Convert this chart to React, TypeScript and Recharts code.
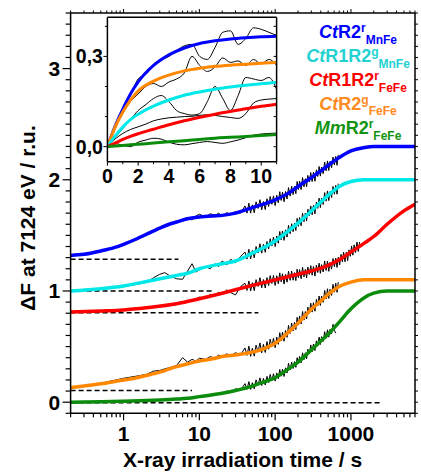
import React from 'react';
import { LineChart, Line, XAxis, YAxis, Legend } from 'recharts';

const FONT = '"Liberation Sans", Arial, Helvetica, sans-serif';

// ---------- main chart: fitted curves (time in s, ΔF in r.u.) ----------
const blueFitT = [0.2, 0.3, 0.5, 0.75, 1, 1.5, 2, 3, 4, 5, 7, 10, 15, 20, 30, 50, 100, 150, 200, 300, 400, 500, 700, 1000, 1500, 2000, 3000, 7000];
const blueFitV = [1.32, 1.33, 1.36, 1.39, 1.42, 1.47, 1.51, 1.565, 1.6, 1.62, 1.65, 1.665, 1.675, 1.68, 1.7, 1.75, 1.82, 1.88, 1.94, 2.02, 2.08, 2.13, 2.2, 2.26, 2.29, 2.3, 2.3, 2.3];

const cyanFitT = [0.2, 0.5, 1, 2, 3, 5, 7, 10, 20, 30, 50, 100, 150, 200, 300, 400, 500, 700, 1000, 1500, 2000, 7000];
const cyanFitV = [1.0, 1.02, 1.045, 1.085, 1.11, 1.14, 1.16, 1.2, 1.245, 1.27, 1.34, 1.45, 1.54, 1.61, 1.72, 1.8, 1.86, 1.94, 1.985, 2.0, 2.0, 2.0];

const redFitT = [0.2, 0.5, 1, 2, 5, 10, 20, 50, 100, 200, 300, 500, 700, 1000, 1500, 2000, 3000, 5000, 7000];
const redFitV = [0.81, 0.82, 0.83, 0.85, 0.885, 0.93, 0.98, 1.05, 1.1, 1.15, 1.18, 1.23, 1.28, 1.35, 1.43, 1.49, 1.6, 1.72, 1.78];

const orangeFitT = [0.2, 0.3, 0.5, 0.75, 1, 1.5, 2, 3, 5, 7, 10, 15, 20, 30, 50, 70, 100, 150, 200, 300, 400, 500, 700, 1000, 1500, 2000, 7000];
const orangeFitV = [0.13, 0.145, 0.165, 0.185, 0.2, 0.22, 0.24, 0.27, 0.32, 0.345, 0.37, 0.39, 0.41, 0.425, 0.45, 0.48, 0.53, 0.63, 0.71, 0.835, 0.91, 0.97, 1.04, 1.08, 1.1, 1.1, 1.1];

const greenFitT = [0.2, 0.5, 1, 2, 3, 5, 7, 10, 20, 30, 50, 70, 100, 150, 200, 300, 400, 500, 700, 1000, 1500, 2000, 3000, 7000];
const greenFitV = [0.0, 0.003, 0.008, 0.015, 0.02, 0.028, 0.035, 0.05, 0.08, 0.105, 0.145, 0.18, 0.22, 0.3, 0.36, 0.47, 0.55, 0.61, 0.72, 0.84, 0.94, 0.98, 1.0, 1.0];

// ---------- main chart: measured (noisy) traces ----------
const noiseT = [0.5, 1, 1.5, 2, 2.5, 3, 3.5, 4, 5, 6, 7, 8, 9, 10, 12, 14, 16, 18, 20, 23, 26, 30, 35,
  40, 42.5, 45, 47.5, 50, 53, 56, 59.5, 63, 66.5, 70, 74, 78, 82, 86, 90.5, 95, 100, 105, 110, 115, 120, 125, 131, 137, 143.5, 150, 157.5, 165, 172.5, 180, 187.5, 195, 202.5, 210, 220, 230, 240, 250, 260, 270, 282.5, 295, 307.5, 320, 335, 350, 365, 380, 395, 410, 430, 450, 470, 490, 510, 530, 555, 580, 605, 630, 655, 680];
const redNoiseExtraT = [710, 740, 770, 800, 835, 870, 905, 940, 980, 1020, 1060, 1100, 1150, 1200, 1250, 1300];

const blueNoiseV = [1.355, 1.412, 1.462, 1.5, 1.535, 1.56, 1.583, 1.605, 1.618, 1.645, 1.66, 1.638, 1.675, 1.69, 1.668, 1.695, 1.68, 1.7, 1.672, 1.705, 1.685, 1.715, 1.7,
  1.765, 1.7, 1.79, 1.7, 1.775, 1.703, 1.802, 1.742, 1.821, 1.73, 1.805, 1.732, 1.83, 1.76, 1.85, 1.78, 1.855, 1.768, 1.861, 1.792, 1.893, 1.814, 1.89, 1.802, 1.895, 1.827, 1.93, 1.853, 1.942, 1.866, 1.94, 1.875, 1.985, 1.912, 1.988, 1.912, 2.02, 1.937, 2.01, 1.938, 2.04, 1.98, 2.065, 1.984, 2.068, 1.987, 2.09, 2.03, 2.12, 2.033, 2.115, 2.055, 2.16, 2.08, 2.17, 2.083, 2.165, 2.108, 2.205, 2.133, 2.21, 2.13, 2.225];
const cyanNoiseV = [1.02, 1.04, 1.06, 1.078, 1.12, 1.15, 1.165, 1.14, 1.11, 1.105, 1.18, 1.245, 1.17, 1.19, 1.22, 1.2, 1.245, 1.22, 1.27, 1.235, 1.285, 1.255, 1.31,
  1.35, 1.287, 1.375, 1.288, 1.365, 1.298, 1.4, 1.342, 1.425, 1.34, 1.42, 1.348, 1.445, 1.378, 1.47, 1.405, 1.485, 1.4, 1.495, 1.43, 1.535, 1.46, 1.54, 1.455, 1.55, 1.485, 1.59, 1.515, 1.605, 1.533, 1.61, 1.544, 1.653, 1.582, 1.66, 1.587, 1.7, 1.623, 1.7, 1.63, 1.735, 1.678, 1.765, 1.685, 1.77, 1.693, 1.8, 1.743, 1.835, 1.75, 1.835, 1.778, 1.885, 1.808, 1.9, 1.813, 1.895, 1.84, 1.94, 1.87, 1.95, 1.87, 1.965];
const redNoiseV = [0.82, 0.83, 0.842, 0.852, 0.858, 0.862, 0.87, 0.878, 0.89, 0.9, 0.915, 0.905, 0.93, 0.945, 0.935, 0.97, 0.955, 0.99, 0.97, 1.01, 0.985, 0.965, 1.04,
  1.07, 1.005, 1.09, 1.0, 1.075, 1.003, 1.102, 1.041, 1.12, 1.029, 1.103, 1.027, 1.12, 1.049, 1.138, 1.067, 1.14, 1.05, 1.137, 1.065, 1.163, 1.082, 1.155, 1.062, 1.15, 1.079, 1.178, 1.096, 1.18, 1.097, 1.165, 1.093, 1.197, 1.12, 1.192, 1.11, 1.213, 1.127, 1.195, 1.118, 1.215, 1.149, 1.228, 1.142, 1.22, 1.134, 1.232, 1.166, 1.25, 1.159, 1.237, 1.171, 1.27, 1.184, 1.268, 1.177, 1.257, 1.197, 1.292, 1.218, 1.295, 1.212, 1.303,
  1.235, 1.33, 1.263, 1.35, 1.263, 1.35, 1.272, 1.37, 1.312, 1.405, 1.322, 1.415, 1.345, 1.44, 1.355, 1.44];
const orangeNoiseV = [0.17, 0.215, 0.235, 0.25, 0.28, 0.285, 0.3, 0.31, 0.33, 0.4, 0.36, 0.385, 0.37, 0.395, 0.385, 0.41, 0.395, 0.425, 0.405, 0.435, 0.415, 0.445, 0.425,
  0.488, 0.421, 0.504, 0.412, 0.485, 0.414, 0.513, 0.453, 0.533, 0.444, 0.52, 0.447, 0.545, 0.476, 0.568, 0.499, 0.575, 0.49, 0.585, 0.52, 0.625, 0.55, 0.63, 0.548, 0.645, 0.583, 0.69, 0.618, 0.712, 0.64, 0.718, 0.653, 0.763, 0.694, 0.775, 0.703, 0.815, 0.738, 0.815, 0.748, 0.855, 0.8, 0.89, 0.81, 0.895, 0.818, 0.925, 0.865, 0.955, 0.87, 0.955, 0.898, 1.005, 0.928, 1.02, 0.933, 1.015, 0.96, 1.06, 0.99, 1.07, 0.988, 1.08];
const greenNoiseV = [0.002, 0.005, 0.012, 0.02, 0.022, 0.018, 0.025, 0.03, 0.026, 0.038, 0.042, 0.036, 0.05, 0.056, 0.05, 0.07, 0.062, 0.085, 0.075, 0.1, 0.09, 0.12, 0.108,
  0.167, 0.116, 0.185, 0.114, 0.175, 0.12, 0.201, 0.154, 0.219, 0.15, 0.214, 0.155, 0.232, 0.177, 0.25, 0.195, 0.256, 0.19, 0.263, 0.211, 0.294, 0.234, 0.297, 0.231, 0.309, 0.262, 0.35, 0.29, 0.361, 0.303, 0.365, 0.313, 0.4, 0.348, 0.412, 0.354, 0.444, 0.382, 0.444, 0.39, 0.476, 0.437, 0.515, 0.453, 0.523, 0.464, 0.552, 0.509, 0.585, 0.519, 0.589, 0.546, 0.634, 0.575, 0.651, 0.585, 0.655, 0.616, 0.7, 0.646, 0.62];

// ---------- main chart: dashed baselines ----------
const blueBaseT = [0.2, 5.3];
const blueBaseV = [1.285, 1.285];
const cyanBaseT = [0.2, 15];
const cyanBaseV = [1.0, 1.0];
const redBaseT = [0.2, 60];
const redBaseV = [0.805, 0.805];
const orangeBaseT = [0.2, 8];
const orangeBaseV = [0.105, 0.105];
const greenBaseT = [0.2, 2450];
const greenBaseV = [-0.005, -0.005];

// ---------- main axes ----------
const xTicks = [0.2, 0.3, 0.4, 0.5, 0.6, 0.7, 0.8, 0.9, 1, 2, 3, 4, 5, 6, 7, 8, 9, 10, 20, 30, 40, 50, 60, 70, 80, 90, 100, 200, 300, 400, 500, 600, 700, 800, 900, 1000, 2000, 3000, 4000, 5000, 6000, 7000];
const xMajorTicks = [1, 10, 100, 1000];
const yTicks = [-0.1, 0, 0.1, 0.2, 0.3, 0.4, 0.5, 0.6, 0.7, 0.8, 0.9, 1, 1.1, 1.2, 1.3, 1.4, 1.5, 1.6, 1.7, 1.8, 1.9, 2, 2.1, 2.2, 2.3, 2.4, 2.5, 2.6, 2.7, 2.8, 2.9, 3, 3.1, 3.2, 3.3, 3.4, 3.5];
const yMajorTicks = [0, 1, 2, 3];

// ---------- inset (linear time 0–11 s, baseline-subtracted) ----------
const insetFitT = [0, 0.5, 1, 1.5, 2, 3, 4, 5, 6, 7, 8, 9, 10, 11];
const insetBlueFit = [0, 0.068, 0.125, 0.175, 0.215, 0.27, 0.305, 0.328, 0.343, 0.352, 0.358, 0.362, 0.365, 0.367];
const insetOrangeFit = [0, 0.065, 0.115, 0.155, 0.185, 0.218, 0.238, 0.252, 0.261, 0.267, 0.271, 0.274, 0.277, 0.28];
const insetCyanFit = [0, 0.035, 0.065, 0.09, 0.108, 0.135, 0.155, 0.171, 0.182, 0.191, 0.198, 0.204, 0.209, 0.213];
const insetRedFit = [0, 0.012, 0.024, 0.034, 0.043, 0.058, 0.073, 0.086, 0.098, 0.108, 0.117, 0.126, 0.134, 0.141];
const insetGreenFit = [0, 0.002, 0.004, 0.006, 0.008, 0.012, 0.016, 0.02, 0.024, 0.028, 0.031, 0.034, 0.037, 0.04];

const insetNoiseT = [0, 0.5, 1, 1.5, 2, 2.5, 3, 3.5, 4, 4.5, 5, 5.5, 6, 6.5, 7, 7.5, 8, 8.5, 9, 9.5, 10, 10.5, 11];
const insetBlueNoise = [0, 0.07, 0.125, 0.17, 0.225, 0.24, 0.27, 0.29, 0.3, 0.32, 0.335, 0.34, 0.3, 0.29, 0.33, 0.38, 0.385, 0.34, 0.36, 0.395, 0.39, 0.38, 0.37];
const insetOrangeNoise = [0, 0.06, 0.11, 0.15, 0.175, 0.2, 0.21, 0.2, 0.215, 0.225, 0.245, 0.3, 0.27, 0.25, 0.265, 0.295, 0.28, 0.285, 0.27, 0.29, 0.275, 0.29, 0.27];
const insetCyanNoise = [0, 0.03, 0.06, 0.09, 0.12, 0.14, 0.16, 0.17, 0.15, 0.12, 0.11, 0.105, 0.11, 0.15, 0.2, 0.16, 0.12, 0.17, 0.23, 0.225, 0.22, 0.23, 0.19];
const insetRedNoise = [0, 0.025, 0.044, 0.057, 0.066, 0.075, 0.086, 0.092, 0.096, 0.098, 0.1, 0.101, 0.104, 0.106, 0.104, 0.1, 0.097, 0.094, 0.11, 0.145, 0.155, 0.158, 0.16];
const insetGreenNoise = [0, 0.01, 0.005, 0.0, 0.015, 0.022, 0.028, 0.025, 0.015, 0.008, 0.006, 0.01, 0.014, 0.017, 0.014, 0.011, 0.016, 0.022, 0.03, 0.038, 0.042, 0.044, 0.045];

const insetXTicks = [0, 1, 2, 3, 4, 5, 6, 7, 8, 9, 10, 11];
const insetXLabelled = [0, 2, 4, 6, 8, 10];
const insetYTicks = [0, 0.1, 0.2, 0.3, 0.4];
const insetYLabelled = [0, 0.3];
const insetYLabelText = ['0,0', '0,3'];

// ---------- legend ----------
const legendItalic = ['Ct', 'Ct', 'Ct', 'Ct', 'Mm'];
const legendMain = ['R2', 'R1R2', 'R1R2', 'R2', 'R2'];
const legendSup = ['r', 'g', 'r', 'g', 'r'];
const legendSub = ['MnFe', 'MnFe', 'FeFe', 'FeFe', 'FeFe'];
const legendColors = ['#0000ff', '#22d2d2', '#ff0000', '#ff8a1e', '#129412'];

const lineColors = ['#0000ff', '#00e8e8', '#ff0000', '#ff8800', '#0c8c0c'];

const rows = (ts: number[], vs: number[]) => ts.map((t, i) => ({ t, v: vs[i] }));

// ---------- ticks ----------
const tickText = { fontFamily: FONT, fontWeight: 'bold' as const, fill: '#000' };

const MainBottomTick = (props: any) => {
  const { x, y, payload } = props;
  const v = payload.value;
  const major = xMajorTicks.includes(v);
  return (
    <g>
      <line x1={x} x2={x} y1={y} y2={y + (major ? 7 : 4)} stroke="#000" strokeWidth={1.2} />
      {major && (
        <text x={x} y={y + 28} textAnchor="middle" fontSize={21} {...tickText}>
          {v}
        </text>
      )}
    </g>
  );
};

const MainTopTick = (props: any) => {
  const { x, y, payload } = props;
  const major = xMajorTicks.includes(payload.value);
  return <line x1={x} x2={x} y1={y} y2={y - (major ? 4 : 2.5)} stroke="#000" strokeWidth={1} />;
};

const MainLeftTick = (props: any) => {
  const { x, y, payload } = props;
  const v = payload.value;
  const major = yMajorTicks.includes(v);
  return (
    <g>
      <line x1={x} x2={x - (major ? 8 : 5)} y1={y} y2={y} stroke="#000" strokeWidth={1.2} />
      {major && (
        <text x={x - 10.5} y={y + 7.5} textAnchor="end" fontSize={21} {...tickText}>
          {v}
        </text>
      )}
    </g>
  );
};

const MainRightTick = (props: any) => {
  const { x, y } = props;
  return <line x1={x} x2={x + 3} y1={y} y2={y} stroke="#000" strokeWidth={1} />;
};

const InsetBottomTick = (props: any) => {
  const { x, y, payload } = props;
  const v = payload.value;
  const major = insetXLabelled.includes(v);
  return (
    <g>
      <line x1={x} x2={x} y1={y} y2={y + (major ? 4 : 2.5)} stroke="#000" strokeWidth={1} />
      {major && (
        <text x={x} y={y + 21.6} textAnchor="middle" fontSize={19.5} {...tickText}>
          {v}
        </text>
      )}
    </g>
  );
};

const InsetLeftTick = (props: any) => {
  const { x, y, payload } = props;
  const idx = insetYLabelled.indexOf(payload.value);
  return (
    <g>
      <line x1={x} x2={x - (idx >= 0 ? 4 : 2.5)} y1={y} y2={y} stroke="#000" strokeWidth={1} />
      {idx >= 0 && (
        <text x={x - 4.5} y={y + 7} textAnchor="end" fontSize={19.5} {...tickText}>
          {insetYLabelText[idx]}
        </text>
      )}
    </g>
  );
};

const InsetRightTick = (props: any) => {
  const { x, y } = props;
  return <line x1={x} x2={x - 3} y1={y} y2={y} stroke="#000" strokeWidth={1} />;
};

const XLabel = () => (
  <text x={242.5} y={467} textAnchor="middle" fontSize={21} {...tickText}>
    X-ray irradiation time / s
  </text>
);

const YLabel = () => (
  <text x={35} y={218} transform="rotate(-90, 35, 218)" textAnchor="middle" fontSize={21} {...tickText}>
    ΔF at 7124 eV / r.u.
  </text>
);

const LegendBox = () => {
  const baselines = [38.3, 62.3, 86, 109.5, 134.3];
  return (
    <svg width={130} height={140} style={{ overflow: 'visible', display: 'block' }}>
      {legendMain.map((m, i) => (
        <text key={i} x={65} y={baselines[i]} textAnchor="middle" fontFamily={FONT} fontWeight="bold" fontSize={18} fill={legendColors[i]}>
          <tspan fontStyle="italic">{legendItalic[i]}</tspan>
          <tspan>{m}</tspan>
          <tspan fontSize={12} dy={-6}>{legendSup[i]}</tspan>
          <tspan fontSize={12} dy={11.5}>{legendSub[i]}</tspan>
        </text>
      ))}
    </svg>
  );
};

const axisLineStyle = { stroke: '#000', strokeWidth: 1.5 };

export default function App() {
  const fits = [
    rows(blueFitT, blueFitV),
    rows(cyanFitT, cyanFitV),
    rows(redFitT, redFitV),
    rows(orangeFitT, orangeFitV),
    rows(greenFitT, greenFitV),
  ];
  const noises = [
    rows(noiseT, blueNoiseV),
    rows(noiseT, cyanNoiseV),
    rows(noiseT.concat(redNoiseExtraT), redNoiseV),
    rows(noiseT, orangeNoiseV),
    rows(noiseT.slice(0, greenNoiseV.length), greenNoiseV),
  ];
  const bases = [
    rows(blueBaseT, blueBaseV),
    rows(cyanBaseT, cyanBaseV),
    rows(redBaseT, redBaseV),
    rows(orangeBaseT, orangeBaseV),
    rows(greenBaseT, greenBaseV),
  ];
  const insetFits = [insetBlueFit, insetOrangeFit, insetCyanFit, insetRedFit, insetGreenFit].map((v) => rows(insetFitT, v));
  const insetFitColors = [lineColors[0], lineColors[3], lineColors[1], lineColors[2], lineColors[4]];
  const insetNoises = [insetBlueNoise, insetOrangeNoise, insetCyanNoise, insetRedNoise, insetGreenNoise].map((v) => rows(insetNoiseT, v));

  return (
    <div style={{ position: 'absolute', left: 0, top: 0, width: 421, height: 473, background: '#fff' }}>
      <LineChart width={421} height={473} margin={{ top: 8, right: 0, bottom: 0, left: 0 }}>
        <XAxis
          xAxisId="b"
          dataKey="t"
          type="number"
          scale="log"
          domain={[0.2, 7000]}
          allowDataOverflow
          ticks={xTicks}
          interval={0}
          tick={MainBottomTick}
          tickLine={false}
          tickSize={0}
          tickMargin={0}
          axisLine={axisLineStyle}
          height={59.7}
          label={<XLabel />}
        />
        <XAxis
          xAxisId="t"
          orientation="top"
          dataKey="t"
          type="number"
          scale="log"
          domain={[0.2, 7000]}
          allowDataOverflow
          ticks={xTicks}
          interval={0}
          tick={MainTopTick}
          tickLine={false}
          tickSize={0}
          tickMargin={0}
          axisLine={axisLineStyle}
          height={5}
        />
        <YAxis
          yAxisId="l"
          type="number"
          domain={[-0.1, 3.5]}
          allowDataOverflow
          ticks={yTicks}
          interval={0}
          tick={MainLeftTick}
          tickLine={false}
          tickSize={0}
          tickMargin={0}
          axisLine={axisLineStyle}
          width={70.6}
          label={<YLabel />}
        />
        <YAxis
          yAxisId="r"
          orientation="right"
          type="number"
          domain={[-0.1, 3.5]}
          allowDataOverflow
          ticks={yTicks}
          interval={0}
          tick={MainRightTick}
          tickLine={false}
          tickSize={0}
          tickMargin={0}
          axisLine={axisLineStyle}
          width={6}
        />
        <Legend
          layout="horizontal"
          verticalAlign="middle"
          align="center"
          content={() => <LegendBox />}
          wrapperStyle={{ left: 293, top: 0, width: 130, height: 140 }}
        />
        {bases.map((d, i) => (
          <Line
            key={'b' + i}
            xAxisId="b"
            yAxisId="l"
            data={d}
            dataKey="v"
            type="linear"
            stroke="#000"
            strokeWidth={1.5}
            strokeDasharray="5 3"
            dot={false}
            activeDot={false}
            isAnimationActive={false}
            legendType="none"
          />
        ))}
        {noises.map((d, i) => (
          <Line
            key={'n' + i}
            xAxisId="b"
            yAxisId="l"
            data={d}
            dataKey="v"
            type="linear"
            stroke="#000"
            strokeWidth={1}
            dot={false}
            activeDot={false}
            isAnimationActive={false}
            legendType="none"
          />
        ))}
        {fits.map((d, i) => (
          <Line
            key={'f' + i}
            xAxisId="b"
            yAxisId="l"
            data={d}
            dataKey="v"
            type="monotone"
            stroke={lineColors[i]}
            strokeWidth={3.5}
            dot={false}
            activeDot={false}
            isAnimationActive={false}
            legendType="none"
          />
        ))}
      </LineChart>

      <div style={{ position: 'absolute', left: 72, top: 15 }}>
        <LineChart width={206} height={172} margin={{ top: 1.3, right: 0.4, bottom: 0, left: 0 }}>
          <XAxis
            xAxisId="b"
            dataKey="t"
            type="number"
            domain={[0, 11]}
            allowDataOverflow
            ticks={insetXTicks}
            interval={0}
            tick={InsetBottomTick}
            tickLine={false}
            tickSize={0}
            tickMargin={0}
            axisLine={axisLineStyle}
            height={25.3}
          />
          <XAxis xAxisId="t" orientation="top" type="number" domain={[0, 11]} allowDataOverflow tick={false} tickLine={false} axisLine={axisLineStyle} height={1} />
          <YAxis
            yAxisId="l"
            type="number"
            domain={[-0.05, 0.43]}
            allowDataOverflow
            ticks={insetYTicks}
            interval={0}
            tick={InsetLeftTick}
            tickLine={false}
            tickSize={0}
            tickMargin={0}
            axisLine={axisLineStyle}
            width={35.4}
          />
          <YAxis
            yAxisId="r"
            orientation="right"
            type="number"
            domain={[-0.05, 0.43]}
            allowDataOverflow
            ticks={insetYTicks}
            interval={0}
            tick={InsetRightTick}
            tickLine={false}
            tickSize={0}
            tickMargin={0}
            axisLine={axisLineStyle}
            width={1}
          />
          {insetNoises.map((d, i) => (
            <Line
              key={'in' + i}
              xAxisId="b"
              yAxisId="l"
              data={d}
              dataKey="v"
              type="monotone"
              stroke="#000"
              strokeWidth={1}
              dot={false}
              activeDot={false}
              isAnimationActive={false}
              legendType="none"
            />
          ))}
          {insetFits.map((d, i) => (
            <Line
              key={'if' + i}
              xAxisId="b"
              yAxisId="l"
              data={d}
              dataKey="v"
              type="monotone"
              stroke={insetFitColors[i]}
              strokeWidth={3}
              dot={false}
              activeDot={false}
              isAnimationActive={false}
              legendType="none"
            />
          ))}
        </LineChart>
      </div>
    </div>
  );
}
